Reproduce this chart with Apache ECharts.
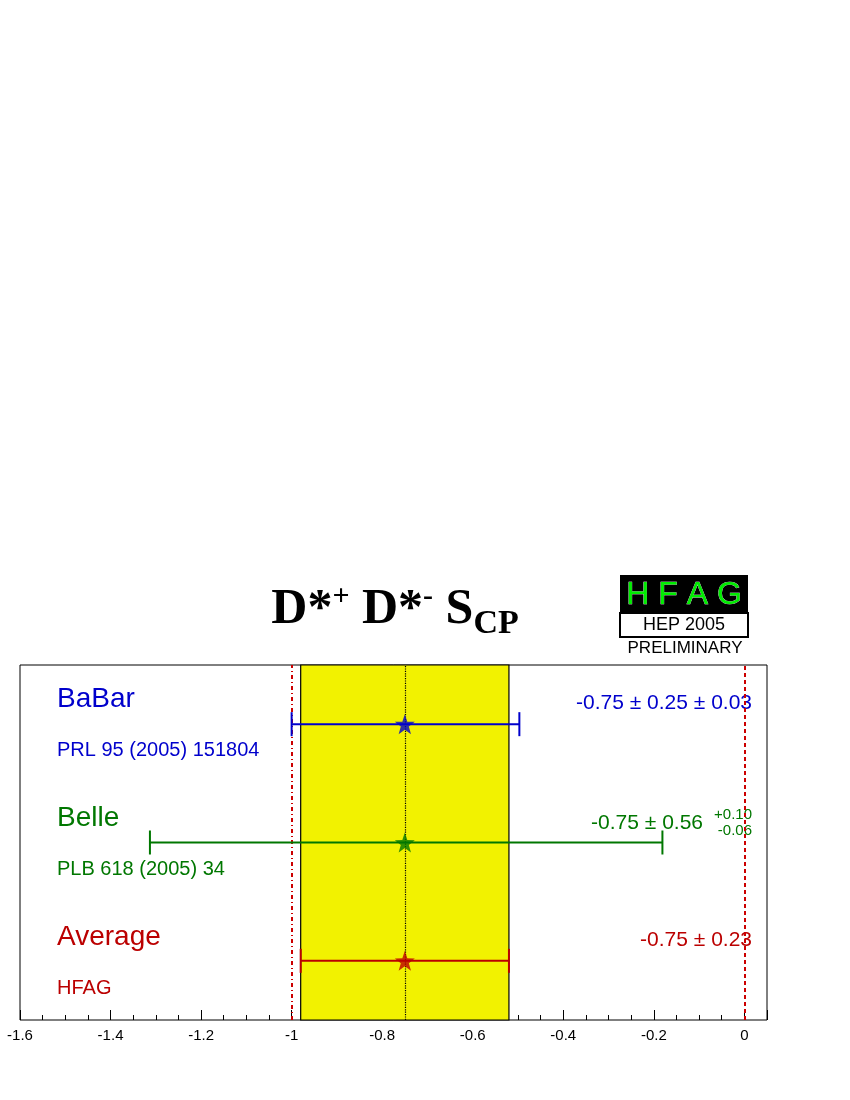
<!DOCTYPE html>
<html><head><meta charset="utf-8">
<script src="https://cdn.jsdelivr.net/npm/echarts@6/dist/echarts.min.js"></script>
<style>html,body{margin:0;padding:0;background:#fff}#c{width:850px;height:1100px}</style>
</head><body><div id="c"></div>
<script>
const names = ['BaBar','Belle','Average'];
const refs = ['PRL 95 (2005) 151804','PLB 618 (2005) 34','HFAG'];
const colors = ['#0000cc','#007700','#bb0000'];
const rowY = [2.5,1.5,0.5];
const central = [-0.75,-0.75,-0.75];
const lowErr = [-1.0,-1.313,-0.98];
const highErr = [-0.497,-0.181,-0.52];
const valueText = ['-0.75 ± 0.25 ± 0.03','-0.75 ± 0.56','-0.75 ± 0.23'];
const avgBand = [-0.98,-0.52];
const xTicks = [-1.6,-1.4,-1.2,-1,-0.8,-0.6,-0.4,-0.2,0];
const star = 'path://M0,-10L2.35,-3.24L9.51,-3.09L3.8,1.24L5.88,8.09L0,4L-5.88,8.09L-3.8,1.24L-9.51,-3.09L-2.35,-3.24Z';

const chart = echarts.init(document.getElementById('c'));
const series = [];
names.forEach((n,i)=>{
  series.push({type:'custom', data:[[lowErr[i],highErr[i],rowY[i]]], z:5,
    renderItem:(p,api)=>{
      const a=api.coord([api.value(0),api.value(2)]), b=api.coord([api.value(1),api.value(2)]);
      const st={stroke:colors[i],lineWidth:2};
      return {type:'group',children:[
        {type:'line',shape:{x1:a[0],y1:a[1],x2:b[0],y2:b[1]},style:st},
        {type:'line',shape:{x1:a[0],y1:a[1]-12,x2:a[0],y2:a[1]+12},style:st},
        {type:'line',shape:{x1:b[0],y1:b[1]-12,x2:b[0],y2:b[1]+12},style:st}]};
    }});
  series.push({type:'scatter', data:[[central[i],rowY[i]]], symbol:star, symbolSize:20,
    itemStyle:{color:colors[i]}, z:6});
});
series.push({type:'line', data:[], markArea:{silent:true, itemStyle:{color:'#f2f200',borderColor:'#000',borderWidth:1.2},
  data:[[{xAxis:avgBand[0]},{xAxis:avgBand[1]}]]},
  markLine:{silent:true,symbol:'none',label:{show:false},data:[
    {xAxis:-0.75,lineStyle:{color:'#000',type:'dotted',width:1.2}},
    {xAxis:-1,lineStyle:{color:'#cc0000',type:[4,3,1,3],width:2}},
    {xAxis:0,lineStyle:{color:'#cc0000',type:[4,3],width:2}}]}});

const L=20,R=83,T=665,B=80;
const g=[];
names.forEach((n,i)=>{
  const y=[703,822,941][i];
  g.push({type:'text',left:57,top:y-18,style:{text:n,fontSize:28,fill:colors[i],fontFamily:'Liberation Sans'}});
  g.push({type:'text',left:57,top:y+37,style:{text:refs[i],fontSize:20,fill:colors[i],fontFamily:'Liberation Sans'}});
});
g.push({type:'text',right:98,top:693,style:{text:valueText[0],fontSize:21,fill:colors[0],fontFamily:'Liberation Sans'}});
g.push({type:'text',right:147,top:813,style:{text:valueText[1],fontSize:21,fill:colors[1],fontFamily:'Liberation Sans'}});
g.push({type:'text',right:98,top:807,style:{text:'+0.10',fontSize:15,fill:colors[1],fontFamily:'Liberation Sans'}});
g.push({type:'text',right:98,top:823,style:{text:'-0.06',fontSize:15,fill:colors[1],fontFamily:'Liberation Sans'}});
g.push({type:'text',right:98,top:930,style:{text:valueText[2],fontSize:21,fill:colors[2],fontFamily:'Liberation Sans'}});
g.push({type:'text',x:354,y:845,rotation:Math.PI/2,style:{text:'HFAG',fontSize:24,fill:'#fff',align:'center',verticalAlign:'middle',fontFamily:'Liberation Sans'}});
g.push({type:'text',x:458,y:845,rotation:Math.PI/2,style:{text:'HEP 2005',fontSize:18,fill:'#fff',align:'center',verticalAlign:'middle',fontFamily:'Liberation Sans'}});
g.push({type:'text',x:395,y:610,style:{text:'{a|D*}{s|+}{a| D*}{s|-}{a| S}{b|CP}',align:'center',verticalAlign:'middle',
  rich:{a:{fontSize:50,fontWeight:'bold',fontFamily:'Liberation Serif',fill:'#000',verticalAlign:'middle'},
        s:{fontSize:30,fontWeight:'bold',fontFamily:'Liberation Serif',fill:'#000',padding:[0,0,26,0]},
        b:{fontSize:34,fontWeight:'bold',fontFamily:'Liberation Serif',fill:'#000',padding:[28,0,0,0]}}}});
g.push({type:'rect',shape:{x:620,y:575,width:128,height:38},style:{fill:'#000'}});
g.push({type:'text',x:684,y:595,style:{text:'H F A G',fontSize:32,fill:'#00ee00',align:'center',verticalAlign:'middle',fontFamily:'Liberation Sans',stroke:'#fff',lineWidth:0.5}});
g.push({type:'rect',shape:{x:620,y:613,width:128,height:24},style:{fill:'#fff',stroke:'#000',lineWidth:2}});
g.push({type:'text',x:684,y:625,style:{text:'HEP 2005',fontSize:18,fill:'#000',align:'center',verticalAlign:'middle',fontFamily:'Liberation Sans'}});
g.push({type:'text',x:685,y:648,style:{text:'PRELIMINARY',fontSize:17,fill:'#000',align:'center',verticalAlign:'middle',fontFamily:'Liberation Sans'}});

chart.setOption({
  animation:false,
  grid:{left:L,right:R,top:T,bottom:B,show:true,borderColor:'#000',borderWidth:1},
  xAxis:{type:'value',min:-1.6,max:0.05,interval:0.2,
    axisLine:{show:false},splitLine:{show:false},
    axisTick:{inside:true,length:10,lineStyle:{color:'#000'}},
    minorTick:{show:true,splitNumber:4,length:5,lineStyle:{color:'#000'}},
    axisLabel:{fontSize:15,color:'#000',fontFamily:'Liberation Sans',margin:8,
      formatter:v=>{const t=xTicks.find(x=>Math.abs(x-v)<1e-6);return t===undefined?'':String(t);}}},
  yAxis:{type:'value',min:0,max:3,show:false},
  series, graphic:g
});
</script></body></html>
